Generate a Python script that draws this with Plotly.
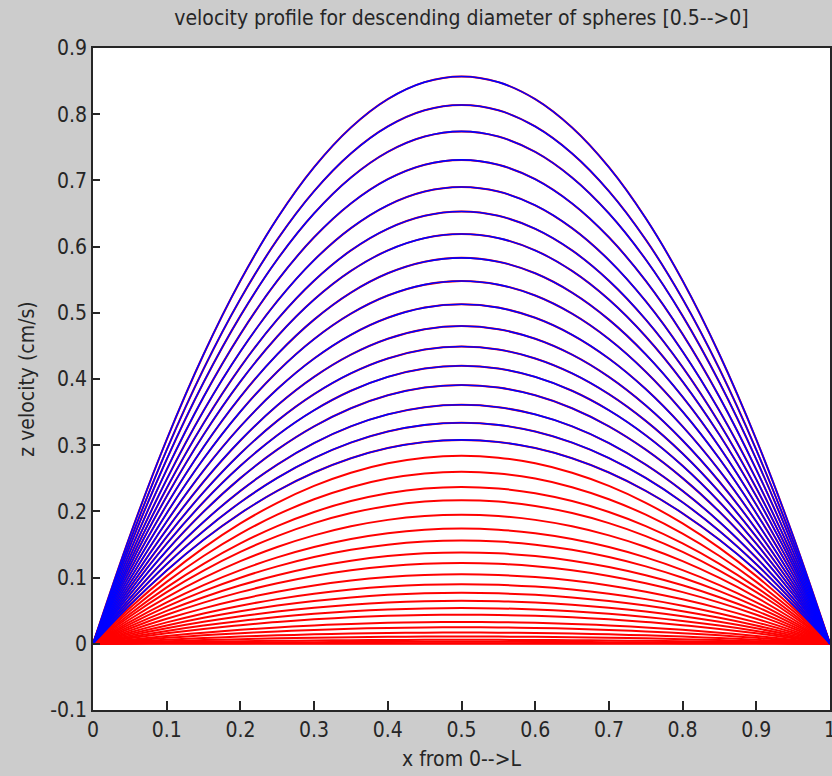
import plotly.graph_objects as go

# Peak velocities (cm/s) of each profile, descending sphere diameter
red_peaks = [0.857, 0.814, 0.774, 0.731, 0.690, 0.653, 0.619, 0.583, 0.548, 0.513,
             0.480, 0.449, 0.420, 0.391, 0.361, 0.334, 0.308, 0.284, 0.260, 0.237,
             0.217, 0.195, 0.174, 0.156, 0.138, 0.122, 0.105, 0.090, 0.077, 0.065,
             0.054, 0.044, 0.033, 0.025, 0.017, 0.011, 0.006, 0.003, 0.001, 0.0]
blue_peaks = [0.857, 0.814, 0.774, 0.731, 0.690, 0.653, 0.619, 0.583, 0.548, 0.513,
              0.480, 0.449, 0.420, 0.391, 0.361, 0.334, 0.308]

# Normalised profile shape read along x (0 -> L)
x_pos = [0.0, 0.05, 0.1, 0.15, 0.2, 0.25, 0.3, 0.35, 0.4, 0.45, 0.5,
         0.55, 0.6, 0.65, 0.7, 0.75, 0.8, 0.85, 0.9, 0.95, 1.0]
shape = [0.0, 0.19, 0.36, 0.51, 0.64, 0.75, 0.84, 0.91, 0.96, 0.99, 1.0,
         0.99, 0.96, 0.91, 0.84, 0.75, 0.64, 0.51, 0.36, 0.19, 0.0]

x_ticks = [0, 0.1, 0.2, 0.3, 0.4, 0.5, 0.6, 0.7, 0.8, 0.9, 1]
x_ticktext = ["0", "0.1", "0.2", "0.3", "0.4", "0.5", "0.6", "0.7", "0.8", "0.9", "1"]
y_ticks = [-0.1, 0, 0.1, 0.2, 0.3, 0.4, 0.5, 0.6, 0.7, 0.8, 0.9]
y_ticktext = ["-0.1", "0", "0.1", "0.2", "0.3", "0.4", "0.5", "0.6", "0.7", "0.8", "0.9"]

FONT = "DejaVu Sans Condensed, Liberation Sans Narrow, Arial Narrow, sans-serif"
TXT = "#262626"

fig = go.Figure()
for p in red_peaks:
    fig.add_trace(go.Scatter(x=x_pos, y=[p * s for s in shape], mode="lines",
                             line=dict(color="#ff0000", width=2, shape="spline"),
                             showlegend=False, hoverinfo="skip"))
for p in blue_peaks:
    fig.add_trace(go.Scatter(x=x_pos, y=[p * s for s in shape], mode="lines",
                             line=dict(color="#0000ff", width=1.6, shape="spline"),
                             showlegend=False, hoverinfo="skip"))

axis_common = dict(showgrid=False, zeroline=False, showline=True, linecolor="#262626",
                   linewidth=1.5, mirror=True, ticks="inside", tickcolor="#262626",
                   tickwidth=1.5, automargin=False, ticklabeloverflow="allow",
                   tickfont=dict(family=FONT, size=21, color=TXT))

fig.update_layout(
    width=832, height=776,
    margin=dict(l=93, r=2, t=48, b=66),
    paper_bgcolor="#cccccc", plot_bgcolor="#ffffff",
    title=dict(text="velocity profile for descending diameter of spheres [0.5-->0]",
               x=0.5, xref="paper", xanchor="center", yref="container",
               y=1 - 18 / 776, yanchor="middle", automargin=False,
               font=dict(family=FONT, size=21, color=TXT)),
    xaxis=dict(range=[0, 1], tickvals=x_ticks, ticktext=x_ticktext, ticklen=9,
               title=dict(text="x from 0-->L", font=dict(family=FONT, size=21, color=TXT),
                          standoff=10),
               **axis_common),
    yaxis=dict(range=[-0.1, 0.9], tickvals=y_ticks, ticktext=y_ticktext, ticklen=7,
               title=dict(text="z velocity (cm/s)", font=dict(family=FONT, size=21, color=TXT),
                          standoff=10),
               **axis_common),
)

fig.write_html(
    "out.html",
    config={"displayModeBar": False},
    post_script="document.body.style.margin='0';document.body.style.padding='0';"
                "document.body.style.overflow='hidden';"
                "document.body.style.background='#cccccc';",
)
